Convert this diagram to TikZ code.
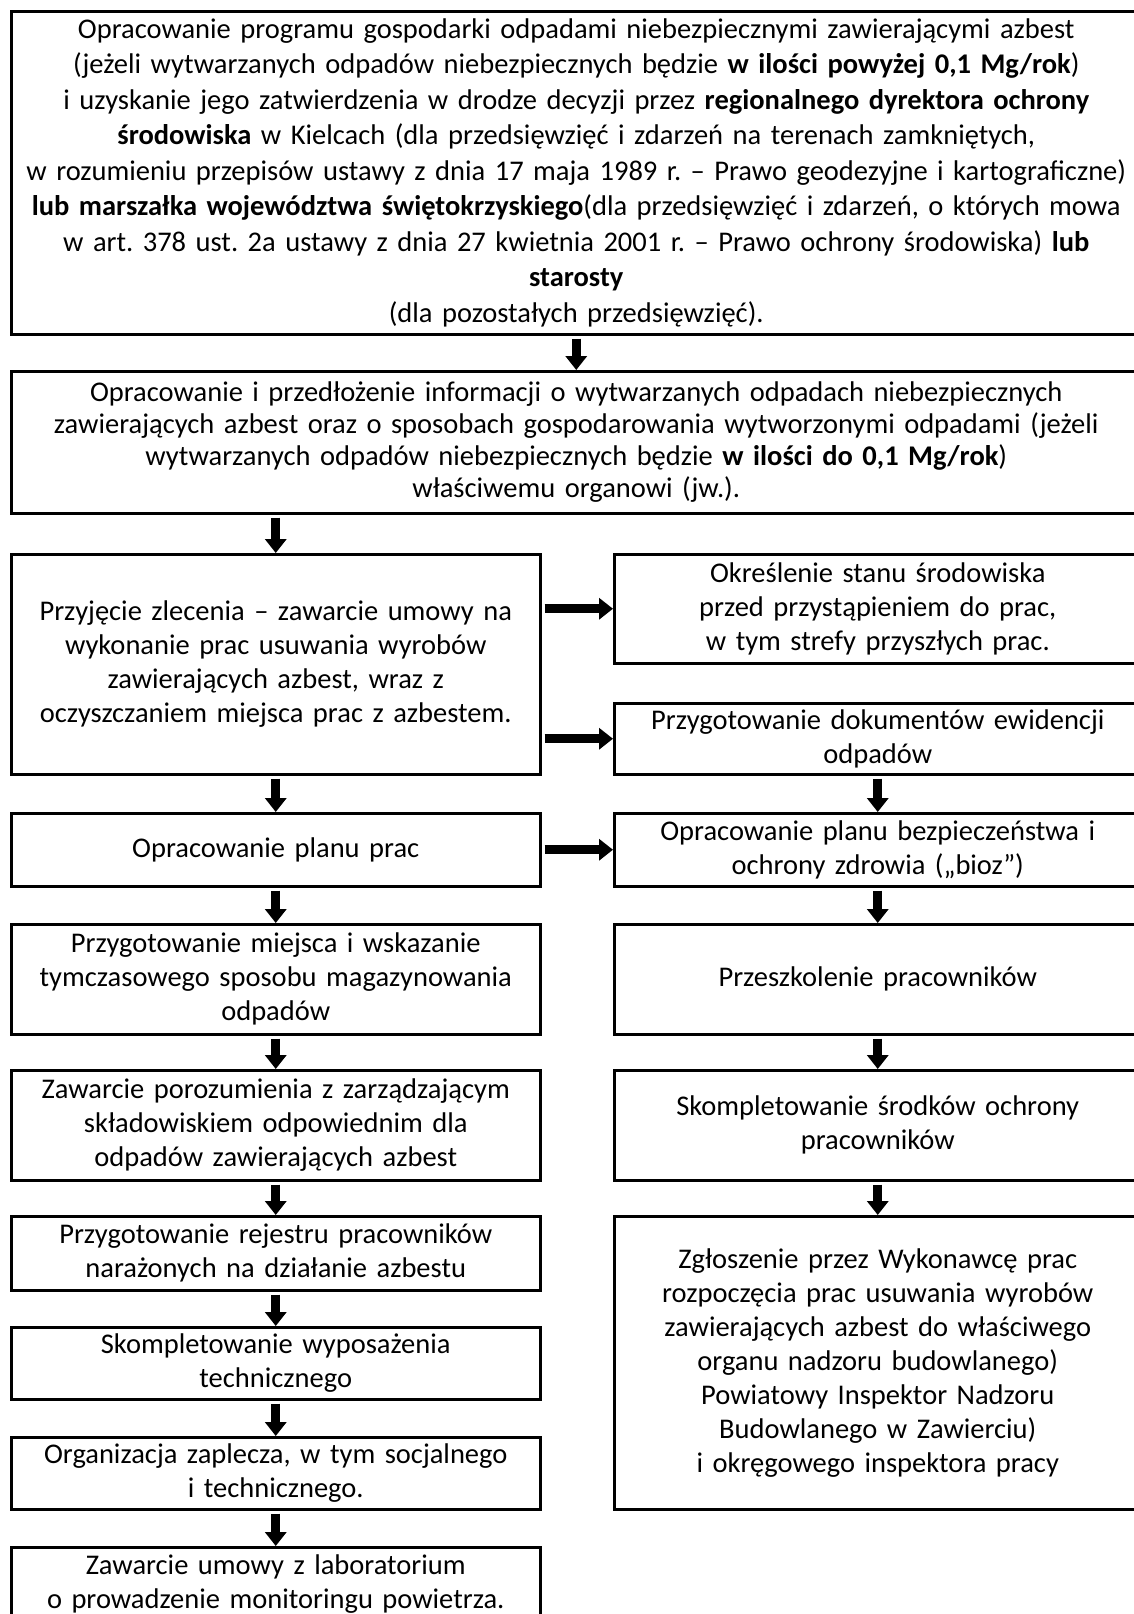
\documentclass[tikz,border=0pt]{standalone}
\usepackage{fontspec}
\setmainfont{Carlito}
\frenchspacing
\usetikzlibrary{arrows.meta,positioning}

\begin{document}
\begin{tikzpicture}[x=1pt,y=-1pt,
		font=\fontsize{28.5}{34}\selectfont,
		box/.style={draw,line width=2.5pt,align=center,anchor=north west,inner sep=0pt},
		wbox/.style={box,minimum width=1130pt,text width=1126pt},
		lbox/.style={box,minimum width=529pt,text width=525pt},
		rbox/.style={box,minimum width=527pt,text width=521pt},
		arr/.style={line width=9pt,-{Triangle[width=21pt,length=14pt]},shorten <=3pt}]
	\useasboundingbox (0,0) rectangle (1134,1614);

	\node[wbox,minimum height=323pt,font=\fontsize{28.5}{35.5}\selectfont] (B1) at (10,10) {Opracowanie programu gospodarki odpadami niebezpiecznymi zawierającymi azbest\\
		(jeżeli wytwarzanych odpadów niebezpiecznych będzie \textbf{w ilości powyżej 0,1 Mg/rok})\\
		i uzyskanie jego zatwierdzenia w drodze decyzji przez \textbf{regionalnego dyrektora ochrony}\\
		\textbf{środowiska} w Kielcach (dla przedsięwzięć i zdarzeń na terenach zamkniętych,\\
		w rozumieniu przepisów ustawy z dnia 17 maja 1989 r. – Prawo geodezyjne i kartograficzne)\\
		\textbf{lub marszałka województwa świętokrzyskiego}(dla przedsięwzięć i zdarzeń, o których mowa\\
		w art. 378 ust. 2a ustawy z dnia 27 kwietnia 2001 r. – Prawo ochrony środowiska) \textbf{lub}\\
		\textbf{starosty}\\
		(dla pozostałych przedsięwzięć).};
	\node[wbox,minimum height=142pt,font=\fontsize{28.5}{32}\selectfont] (B2) at (10,370) {Opracowanie i przedłożenie informacji o wytwarzanych odpadach niebezpiecznych\\
		zawierających azbest oraz o sposobach gospodarowania wytworzonymi odpadami (jeżeli\\
		wytwarzanych odpadów niebezpiecznych będzie \textbf{w ilości do 0,1 Mg/rok})\\
		właściwemu organowi (jw.).};

	\node[lbox,minimum height=220pt] (L1) at (10,553) {Przyjęcie zlecenia – zawarcie umowy na\\ wykonanie prac usuwania wyrobów\\ zawierających azbest, wraz z\\ oczyszczaniem miejsca prac z azbestem.};
	\node[lbox,minimum height=73pt] (L2) at (10,812) {Opracowanie planu prac};
	\node[lbox,minimum height=110pt] (L3) at (10,923) {Przygotowanie miejsca i wskazanie\\ tymczasowego sposobu magazynowania\\ odpadów};
	\node[lbox,minimum height=110pt] (L4) at (10,1069) {Zawarcie porozumienia z zarządzającym\\ składowiskiem odpowiednim dla\\ odpadów zawierających azbest};
	\node[lbox,minimum height=74pt] (L5) at (10,1215) {Przygotowanie rejestru pracowników\\ narażonych na działanie azbestu};
	\node[lbox,minimum height=72pt] (L6) at (10,1326) {Skompletowanie wyposażenia\\ technicznego};
	\node[lbox,minimum height=72pt] (L7) at (10,1436) {Organizacja zaplecza, w tym socjalnego\\ i technicznego.};
	\node[lbox,minimum height=74pt] (L8) at (10,1546) {Zawarcie umowy z laboratorium\\ o prowadzenie monitoringu powietrza.};

	\node[rbox,minimum height=109pt] (R1) at (613,553) {Określenie stanu środowiska\\ przed przystąpieniem do prac,\\ w tym strefy przyszłych prac.};
	\node[rbox,minimum height=71pt] (R2) at (613,702) {Przygotowanie dokumentów ewidencji\\ odpadów};
	\node[rbox,minimum height=73pt] (R3) at (613,812) {Opracowanie planu bezpieczeństwa i\\ ochrony zdrowia („bioz”)};
	\node[rbox,minimum height=110pt] (R4) at (613,923) {Przeszkolenie pracowników};
	\node[rbox,minimum height=110pt] (R5) at (613,1069) {Skompletowanie środków ochrony\\ pracowników};
	\node[rbox,minimum height=293pt] (R6) at (613,1215) {Zgłoszenie przez Wykonawcę prac\\ rozpoczęcia prac usuwania wyrobów\\ zawierających azbest do właściwego\\ organu nadzoru budowlanego)\\ Powiatowy Inspektor Nadzoru\\ Budowlanego w Zawierciu)\\ i okręgowego inspektora pracy};

	\draw[arr] (B1.south) -- (B2.north);
	\draw[arr] (B2.south -| L1.north) -- (L1.north);
	\draw[arr] (L1.east |- R1.west) -- (R1.west);
	\draw[arr] (L1.east |- R2.west) -- (R2.west);
	\draw[arr] (L2.east) -- (R3.west);

	\foreach \i in {1,...,7}
	{
		\pgfmathtruncatemacro{\NextBox}{\i+1}
		\draw[arr] (L\i.south) -- (L\NextBox.north);
	}
	\foreach \i in {2,...,5}
	{
		\pgfmathtruncatemacro{\NextBox}{\i+1}
		\draw[arr] (R\i.south) -- (R\NextBox.north);
	}
\end{tikzpicture}
\end{document}
